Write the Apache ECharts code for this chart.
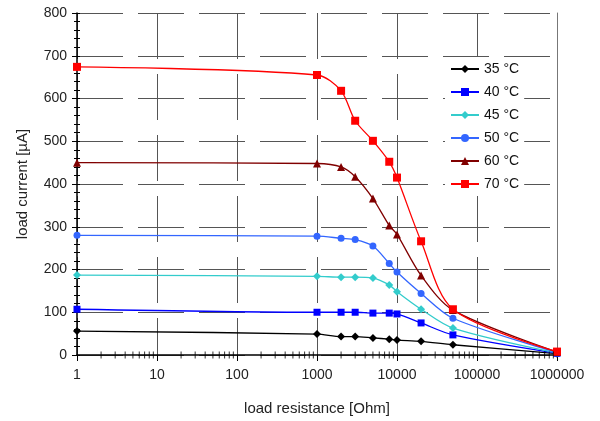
<!DOCTYPE html>
<html>
<head>
<meta charset="utf-8">
<script src="https://cdn.jsdelivr.net/npm/echarts@6/dist/echarts.min.js"></script>
<style>
  html, body { margin: 0; padding: 0; background: #fff; }
  #chart { width: 600px; height: 421px; }
</style>
</head>
<body>
<div id="chart"></div>
<script>
// load resistance [Ohm] at which the points were measured
var resistance = [1, 1000, 2000, 3000, 5000, 8000, 10000, 20000, 50000, 1000000];
// load current [µA] per temperature
var t35 = [56, 49, 43, 43, 40, 37, 35, 32, 24, 3];
var t40 = [107, 100, 100, 100, 98, 98, 96, 75, 47, 4];
var t45 = [187, 184, 182, 182, 180, 164, 148, 107, 63, 5];
var t50 = [280, 278, 273, 270, 255, 214, 194, 144, 86, 6];
var t60 = [450, 448, 440, 417, 366, 303, 282, 186, 105, 7];
var t70 = [674, 655, 618, 548, 501, 452, 415, 266, 107, 8];
var names = ['35 °C', '40 °C', '45 °C', '50 °C', '60 °C', '70 °C'];

var font = 'Liberation Sans, Arial, sans-serif';

// minor ticks of the log axis (2..9 in every decade)
var minorX = [];
for (var d = 1; d < 1000000; d *= 10) {
    for (var k = 2; k <= 9; k++) {
        minorX.push([k * d, 0]);
    }
}

function pairs(vals) {
    var out = [];
    for (var i = 0; i < vals.length; i++) {
        out.push([resistance[i], vals[i]]);
    }
    return out;
}

function line(name, vals, color, symbol, size) {
    return {
        name: name,
        type: 'line',
        smooth: 0.3,
        data: pairs(vals),
        symbol: symbol,
        symbolSize: size,
        showAllSymbol: true,
        lineStyle: { color: color, width: 1.3 },
        itemStyle: { color: color },
        z: 3
    };
}

var chart = echarts.init(document.getElementById('chart'));
var option = {
    animation: false,
    backgroundColor: '#fff',
    grid: { left: 77, right: 43, top: 13, bottom: 65 },
    legend: {
        data: names,
        orient: 'vertical',
        left: 445,
        top: 57,
        itemWidth: 28,
        itemHeight: 10,
        itemGap: 9,
        padding: [5, 5, 5, 5],
        backgroundColor: '#fff',
        textStyle: { color: '#111', fontSize: 14, fontFamily: font }
    },
    xAxis: [{
        type: 'log',
        logBase: 10,
        min: 1,
        max: 1000000,
        name: 'load resistance [Ohm]',
        nameLocation: 'middle',
        nameGap: 46,
        nameTextStyle: { color: '#222', fontSize: 15, fontFamily: font },
        axisLine: { lineStyle: { color: '#000', width: 1.5 } },
        axisTick: { length: 6, lineStyle: { color: '#000' } },
        axisLabel: {
            color: '#222', fontSize: 14, fontFamily: font, margin: 13,
            formatter: function (v) { return String(Math.round(v)); }
        },
        splitLine: { show: true, lineStyle: { color: '#555', width: 1, type: [46, 15] } }
    }],
    yAxis: [{
        type: 'value',
        min: 0,
        max: 800,
        interval: 100,
        name: 'load current [µA]',
        nameLocation: 'middle',
        nameGap: 47,
        nameTextStyle: { color: '#222', fontSize: 15, fontFamily: font },
        axisLine: { show: true, lineStyle: { color: '#000', width: 1.5 } },
        axisTick: { show: true, length: 5, lineStyle: { color: '#000' } },
        minorTick: { show: true, splitNumber: 5, length: 3, lineStyle: { color: '#000' } },
        axisLabel: { color: '#222', fontSize: 14, fontFamily: font, margin: 10 },
        splitLine: { show: true, lineStyle: { color: '#555', width: 1, type: [46, 15] } }
    }, {
        // same scale, ticks drawn inward so they cross the axis
        type: 'value',
        position: 'left',
        min: 0,
        max: 800,
        interval: 100,
        axisLine: { show: false },
        axisTick: { show: true, inside: true, length: 3, lineStyle: { color: '#000' } },
        minorTick: { show: true, splitNumber: 5, length: 3, lineStyle: { color: '#000' } },
        axisLabel: { show: false },
        splitLine: { show: false }
    }, {
        // plot border on the right
        type: 'value',
        position: 'right',
        min: 0,
        max: 800,
        interval: 100,
        axisLine: { show: true, lineStyle: { color: '#777', width: 1 } },
        axisTick: { show: false },
        axisLabel: { show: false },
        splitLine: { show: false }
    }],
    series: [
        {
            name: 'minor',
            type: 'scatter',
            data: minorX,
            symbol: 'rect',
            symbolSize: [1, 7],
            itemStyle: { color: '#000' },
            silent: true,
            z: 4
        },
        line(names[0], t35, '#000000', 'diamond', 8),
        line(names[1], t40, '#0000ff', 'rect', 7),
        line(names[2], t45, '#33cccc', 'diamond', 8),
        line(names[3], t50, '#3366ff', 'circle', 7),
        line(names[4], t60, '#800000', 'triangle', 8),
        line(names[5], t70, '#ff0000', 'rect', 8)
    ]
};
chart.setOption(option);
</script>
</body>
</html>
